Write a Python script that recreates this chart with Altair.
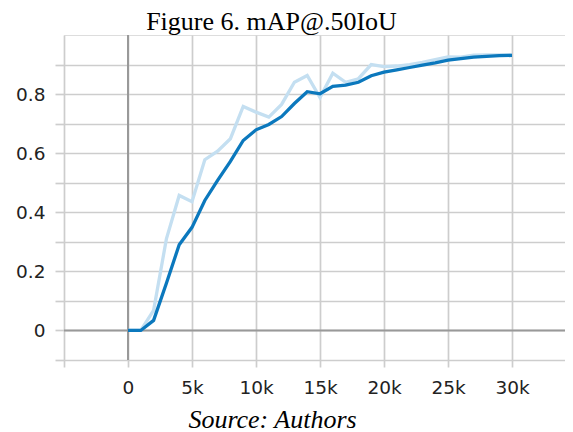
import altair as alt
import pandas as pd

# ---- data ----
steps = [0, 1000, 2000, 3000, 4000, 5000, 6000, 7000, 8000, 9000, 10000,
         11000, 12000, 13000, 14000, 15000, 16000, 17000, 18000, 19000, 20000,
         21000, 22000, 23000, 24000, 25000, 26000, 27000, 28000, 29000, 30000]
raw = [0.0, 0.0, 0.068, 0.31, 0.457, 0.436, 0.578, 0.607, 0.649, 0.758, 0.739,
       0.722, 0.765, 0.84, 0.863, 0.788, 0.871, 0.84, 0.852, 0.9, 0.893,
       0.895, 0.9, 0.907, 0.917, 0.926, 0.925, 0.932, 0.933, 0.933, 0.933]
smoothed = [0.0, 0.0, 0.034, 0.16, 0.29, 0.349, 0.44, 0.508, 0.572, 0.643, 0.679,
            0.697, 0.724, 0.768, 0.808, 0.801, 0.826, 0.83, 0.84, 0.862, 0.874,
            0.882, 0.89, 0.898, 0.906, 0.915, 0.92, 0.925, 0.928, 0.93, 0.931]
x_ticks = [-5000, 0, 5000, 10000, 15000, 20000, 25000, 30000]
y_ticks = [-0.1, 0.0, 0.1, 0.2, 0.3, 0.4, 0.5, 0.6, 0.7, 0.8, 0.9]
y_labels = ["0", "0.2", "0.4", "0.6", "0.8"]
zero = [0]

rows = []
for s, r in zip(steps, raw):
    rows.append({"step": s, "value": r, "series": "raw"})
for s, m in zip(steps, smoothed):
    rows.append({"step": s, "value": m, "series": "smoothed"})
df = pd.DataFrame(rows)
zdf = pd.DataFrame({"z": zero})

GRID = "#cdcdcd"
xscale = alt.Scale(domain=[-5000, 34140], nice=False, zero=False)
yscale = alt.Scale(domain=[-0.1, 1.0], nice=False, zero=False)

label_list = "[" + ",".join("'" + l + "'" for l in y_labels) + "]"

x_axis = alt.Axis(
    values=x_ticks,
    labelExpr="datum.value < 0 ? '' : (datum.value == 0 ? '0' : (datum.value / 1000) + 'k')",
    grid=True, gridColor=GRID, gridWidth=1.7,
    ticks=True, tickColor=GRID, tickWidth=1.7, tickSize=7,
    domain=False, labelFlush=False, labelOverlap=False,
    labelFont="DejaVu Sans", labelFontSize=18.5, labelColor="#222222", labelPadding=11,
    title="Source: Authors", titleFont="Liberation Serif", titleFontStyle="italic",
    titleFontWeight="normal", titleFontSize=26, titleColor="#000000",
    titleX=208, titleY=67, titleAlign="center", titleBaseline="alphabetic",
)
y_axis = alt.Axis(
    values=y_ticks, format=".1~f",
    labelExpr="indexof(" + label_list + ", datum.label) >= 0 ? datum.label : ''",
    grid=True, gridColor=GRID, gridWidth=1.7,
    ticks=True, tickColor=GRID, tickWidth=1.7, tickSize=9,
    domain=False, labelFlush=False, labelOverlap=False,
    labelFont="DejaVu Sans", labelFontSize=18.5, labelColor="#222222", labelPadding=10,
    title=None,
)

lines = alt.Chart(df).mark_line(strokeWidth=3.3).encode(
    x=alt.X("step:Q", scale=xscale, axis=x_axis),
    y=alt.Y("value:Q", scale=yscale, axis=y_axis),
    color=alt.Color("series:N", scale=alt.Scale(domain=["raw", "smoothed"],
                                                range=["#c4dff1", "#0b78bd"]), legend=None),
    order=alt.Order("step:Q"),
)
vzero = alt.Chart(zdf).mark_rule(color="#999999", strokeWidth=2).encode(
    x=alt.X("z:Q", scale=xscale, axis=x_axis),
)
hzero = alt.Chart(zdf).mark_rule(color="#999999", strokeWidth=2).encode(
    y=alt.Y("z:Q", scale=yscale, axis=y_axis),
)

chart = alt.layer(vzero, hzero, lines).properties(
    width=501, height=325,
    padding={"left": 56, "top": 27, "right": 0, "bottom": 72},
    autosize=alt.AutoSizeParams(type="none"),
    title=alt.Title(
        "Figure 6. mAP@.50IoU", font="Liberation Serif", fontSize=26,
        fontWeight="normal", color="#000000", anchor="middle", dx=-43,
        offset=-1, frame="group",
    ),
).configure_view(stroke=None).configure(background="white")

chart.save("out.html", embed_options={"renderer": "svg", "actions": False})
